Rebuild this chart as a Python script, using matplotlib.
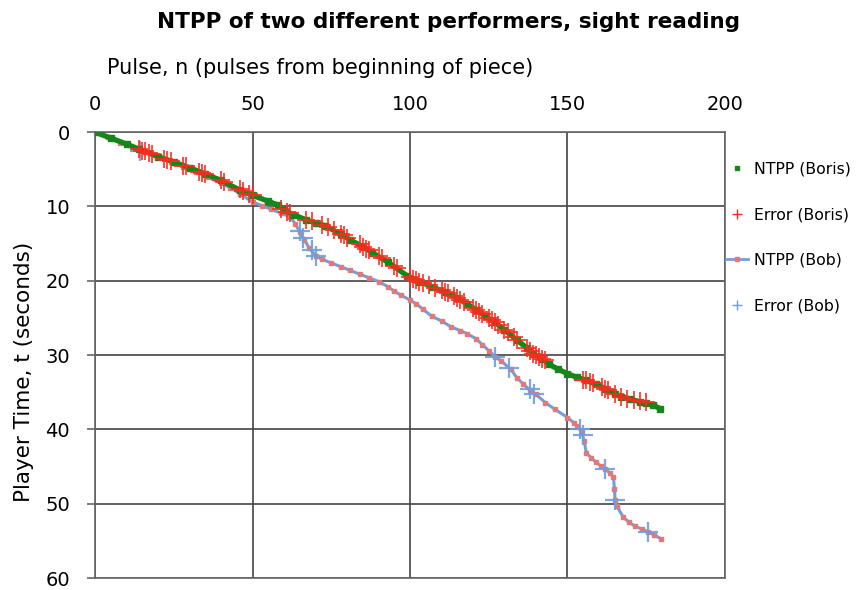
import numpy as np
import matplotlib
matplotlib.use('Agg')
import matplotlib.pyplot as plt
from matplotlib.lines import Line2D

# -----------------------------------------------------------------------------
# Data
# -----------------------------------------------------------------------------
boris_n = [0, 5, 10, 14, 20, 25, 30, 35, 40, 46, 50, 55, 58, 60, 63, 67, 70,
           73, 78, 81, 85, 88, 93, 99, 103, 107, 111, 115, 118, 121, 124, 127,
           130, 134, 137, 139, 142, 144, 147, 150, 153, 156, 159, 162, 165,
           167, 170, 173, 175, 177, 179.4]
boris_t = [0, 0.8, 1.6, 2.3, 3.3, 4.0, 4.8, 5.6, 6.5, 7.8, 8.5, 9.3, 9.8,
           10.5, 11.1, 11.8, 12.2, 12.6, 13.7, 14.5, 15.4, 16.2, 17.5, 19.3,
           20.1, 20.8, 21.5, 22.3, 23.1, 23.9, 24.8, 25.6, 26.6, 28.0, 29.0,
           29.8, 30.5, 31.2, 31.9, 32.5, 33.0, 33.4, 33.9, 34.5, 35.2, 35.6,
           35.9, 36.3, 36.5, 36.7, 37.2]

boris_err_n = [14, 15, 16, 17, 18, 22, 23, 24, 28, 29, 33, 34, 35, 40, 41,
               46, 47, 49, 50, 59, 61, 62, 67, 69, 72, 74, 76, 78, 79, 80,
               84, 85, 86, 87, 90, 91, 95, 96, 100, 101, 102, 103, 104, 106,
               108, 110, 111, 112, 114, 115, 116, 117, 120, 121, 122, 123,
               125, 126, 127, 128, 130, 131, 133, 134, 137, 138, 139, 140,
               141, 142, 143, 155, 156, 157, 158, 161, 162, 163, 165, 167,
               169, 171, 173, 175]
boris_err_t = [2.3, 2.5, 2.6, 2.8, 2.9, 3.6, 3.7, 3.9, 4.5, 4.6, 5.3, 5.5,
               5.6, 6.5, 6.7, 7.7, 7.9, 8.3, 8.5, 10.3, 10.7, 10.9, 11.8,
               12.0, 12.5, 12.8, 13.2, 13.7, 13.9, 14.2, 15.1, 15.4, 15.7,
               15.9, 16.7, 16.9, 18.0, 18.3, 19.5, 19.7, 19.9, 20.1, 20.3,
               20.6, 21.0, 21.3, 21.5, 21.7, 22.1, 22.3, 22.6, 22.8, 23.6,
               23.9, 24.2, 24.5, 25.0, 25.3, 25.6, 25.9, 26.6, 26.9, 27.6,
               28.0, 29.0, 29.4, 29.8, 30.0, 30.2, 30.5, 30.7, 33.3, 33.4,
               33.6, 33.8, 34.3, 34.5, 34.7, 35.3, 35.7, 35.9, 36.1, 36.2,
               36.3]

bob_n = [0, 4, 8, 12, 16, 20, 24, 28, 32, 36, 40, 43, 46, 50, 53, 56, 59,
         62, 63.5, 65, 66.5, 68, 70, 72, 75, 78, 81, 84, 87, 90, 93, 95, 97,
         100, 102, 104, 107, 110, 113, 116, 118, 121, 123, 125, 127, 129,
         132, 134, 136, 138, 140, 143, 146, 150, 152, 153, 154.5, 155.3,
         156, 157.5, 159, 160.5, 162, 163.5, 164.6, 164.9, 165.1, 165.6,
         167.7, 169.5, 171.4, 173.5, 175.7, 177.5, 179.6]
bob_t = [0, 0.7, 1.4, 2.0, 2.7, 3.4, 4.0, 4.7, 5.4, 6.1, 6.9, 7.5, 8.3, 9.4,
         9.9, 10.4, 10.9, 11.4, 12.3, 13.4, 14.5, 15.6, 16.6, 17.1, 17.6,
         18.1, 18.6, 19.1, 19.6, 20.1, 20.8, 21.4, 21.9, 22.6, 23.1, 23.8,
         24.8, 25.4, 26.2, 26.7, 27.1, 27.8, 28.6, 29.4, 30.2, 30.8, 31.9,
         33.1, 33.9, 34.7, 35.3, 36.4, 37.3, 38.4, 39.1, 39.6, 40.3, 41.6,
         43.2, 43.8, 44.4, 44.9, 45.3, 45.9, 46.4, 48.0, 49.5, 50.3, 51.8,
         52.5, 53.0, 53.4, 53.8, 54.2, 54.7]

bob_err_n = [14.3, 65, 66, 69, 70, 127, 131.5, 138, 139.5, 154, 155, 162,
             165, 175.7]
bob_err_t = [2.5, 13.3, 14.2, 15.9, 16.6, 30.2, 31.8, 34.6, 35.2, 40.0, 40.8,
             45.3, 49.5, 53.8]

labels = ['NTPP (Boris)', 'Error (Boris)', 'NTPP (Bob)', 'Error (Bob)']

green = '#16861a'
red = '#ff2a1f'
blue = '#6f9fdc'
pink = '#e07a7a'

# -----------------------------------------------------------------------------
# Figure
# -----------------------------------------------------------------------------
fig = plt.figure(figsize=(8.6, 5.9), dpi=100)
ax = fig.add_axes([0.1105, 0.0203, 0.7325, 0.7557])

ax.plot(bob_n, bob_t, color=blue, lw=2.2, marker='s', ms=2.6,
        mfc=pink, mec=pink, zorder=3)
ax.plot(bob_err_n, bob_err_t, ls='none', marker='+', ms=15, mew=1.6,
        color=blue, alpha=0.9, zorder=4)
ax.plot(boris_n, boris_t, color=green, lw=3.8, marker='s', ms=3.8,
        zorder=5, solid_capstyle='round')
ax.plot(boris_err_n, boris_err_t, ls='none', marker='+', ms=13, mew=1.3,
        color=red, alpha=0.9, zorder=6)

ax.set_xlim(0, 200)
ax.set_ylim(60, 0)
ax.set_xticks([0, 50, 100, 150, 200])
ax.set_yticks([0, 10, 20, 30, 40, 50, 60])
ax.xaxis.tick_top()
ax.tick_params(axis='x', length=0, pad=13, labelsize=14)
ax.tick_params(axis='y', length=6, width=1.2, color='#666666',
               direction='out', pad=12, labelsize=14)
ax.grid(True, color='#444444', lw=1.2)
for s in ax.spines.values():
    s.set_color('#666666')
    s.set_linewidth(1.2)

fig.text(0.522, 0.962, 'NTPP of two different performers, sight reading',
         ha='center', va='center', fontsize=15.5, fontweight='bold')
fig.text(0.124, 0.885, 'Pulse, n (pulses from beginning of piece)',
         ha='left', va='center', fontsize=15)
fig.text(0.028, 0.37, 'Player Time, t (seconds)', rotation=90,
         ha='center', va='center', fontsize=15.5)

handles = [
    Line2D([], [], ls='none', marker='s', ms=3, color=green),
    Line2D([], [], ls='none', marker='+', ms=7, mew=1, color=red),
    Line2D([], [], color=blue, lw=2, marker='s', ms=3, mfc=pink, mec=pink),
    Line2D([], [], ls='none', marker='+', ms=7, mew=1, color=blue),
]
fig.legend(handles, labels, loc='upper left', bbox_to_anchor=(0.828, 0.75),
           frameon=False, fontsize=11.3, labelspacing=1.95, handlelength=1.4,
           handletextpad=0.35)

fig.savefig('out.png', dpi=100)
